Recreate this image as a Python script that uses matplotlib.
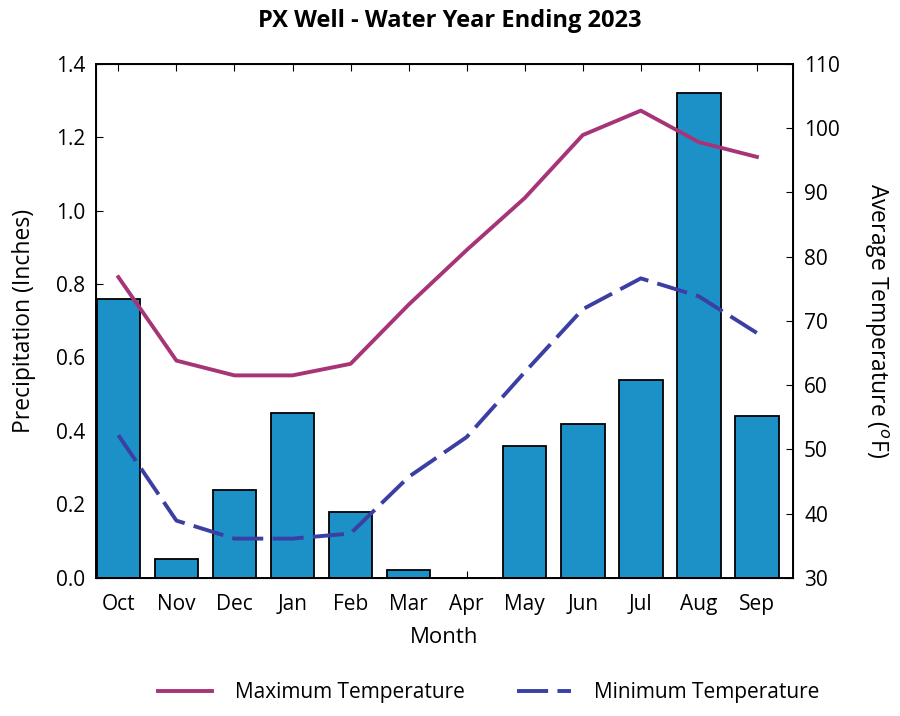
import numpy as np
import matplotlib
matplotlib.use('Agg')
import matplotlib.pyplot as plt
from matplotlib.lines import Line2D

plt.rcParams['font.family'] = ['Open Sans', 'DejaVu Sans']

months = ['Oct', 'Nov', 'Dec', 'Jan', 'Feb', 'Mar', 'Apr', 'May', 'Jun', 'Jul', 'Aug', 'Sep']
precip = [0.76, 0.05, 0.24, 0.45, 0.18, 0.02, 0.0, 0.36, 0.42, 0.54, 1.32, 0.44]
max_temp = [76.8, 63.8, 61.5, 61.5, 63.3, 72.5, 81.0, 89.1, 98.9, 102.7, 97.8, 95.5]
min_temp = [52.2, 38.9, 36.1, 36.1, 36.9, 45.7, 51.9, 62.0, 71.8, 76.6, 73.8, 68.1]

bar_color = '#1b91c8'
max_color = '#a83478'
min_color = '#3b3fa3'
dash = (8, 2.4)

fig = plt.figure(figsize=(9, 7.16), dpi=100)
ax = fig.add_axes([0.107, 0.193, 0.774, 0.718])
x = np.arange(len(months))
ax.bar(x, precip, width=0.75, color=bar_color, edgecolor='black', linewidth=1.3, zorder=2)
ax.set_xlim(-0.38, 11.62)
ax.set_ylim(0, 1.4)
ax.set_yticks(np.arange(0, 1.41, 0.2))
ax.set_yticklabels(['%.1f' % v for v in np.arange(0, 1.41, 0.2)])
ax.set_xticks(x)
ax.set_xticklabels(months)
ax.tick_params(axis='x', direction='in', top=True, length=5, labelsize=15, pad=12)
ax.tick_params(axis='y', direction='in', length=5, labelsize=15, pad=8)
ax.set_xlabel('Month', fontsize=16, labelpad=8)
ax.set_ylabel('Precipitation (Inches)', fontsize=16.5, labelpad=14)
for s in ax.spines.values():
    s.set_linewidth(1.4)

ax2 = ax.twinx()
ax2.plot(x, max_temp, color=max_color, linewidth=2.8, zorder=3)
ax2.plot(x, min_temp, color=min_color, linewidth=2.8, dashes=dash, zorder=3)
ax2.set_ylim(30, 110)
ax2.set_yticks(np.arange(30, 111, 10))
ax2.tick_params(axis='y', direction='in', length=5, labelsize=15, pad=8)
ax2.set_ylabel(r'Average Temperature ($^o$F)', fontsize=16.5, rotation=270, labelpad=36)

fig.suptitle('PX Well - Water Year Ending 2023', fontsize=17, fontweight='bold', y=0.988)

handles = [Line2D([], [], color=max_color, linewidth=2.8),
           Line2D([], [], color=min_color, linewidth=2.8, dashes=dash)]
fig.legend(handles, ['Maximum Temperature', 'Minimum Temperature'], loc='center',
           bbox_to_anchor=(0.543, 0.033), ncol=2, frameon=False, fontsize=15,
           handlelength=2.6, handletextpad=1.1, columnspacing=2.5)

fig.savefig('out.png', dpi=100)
